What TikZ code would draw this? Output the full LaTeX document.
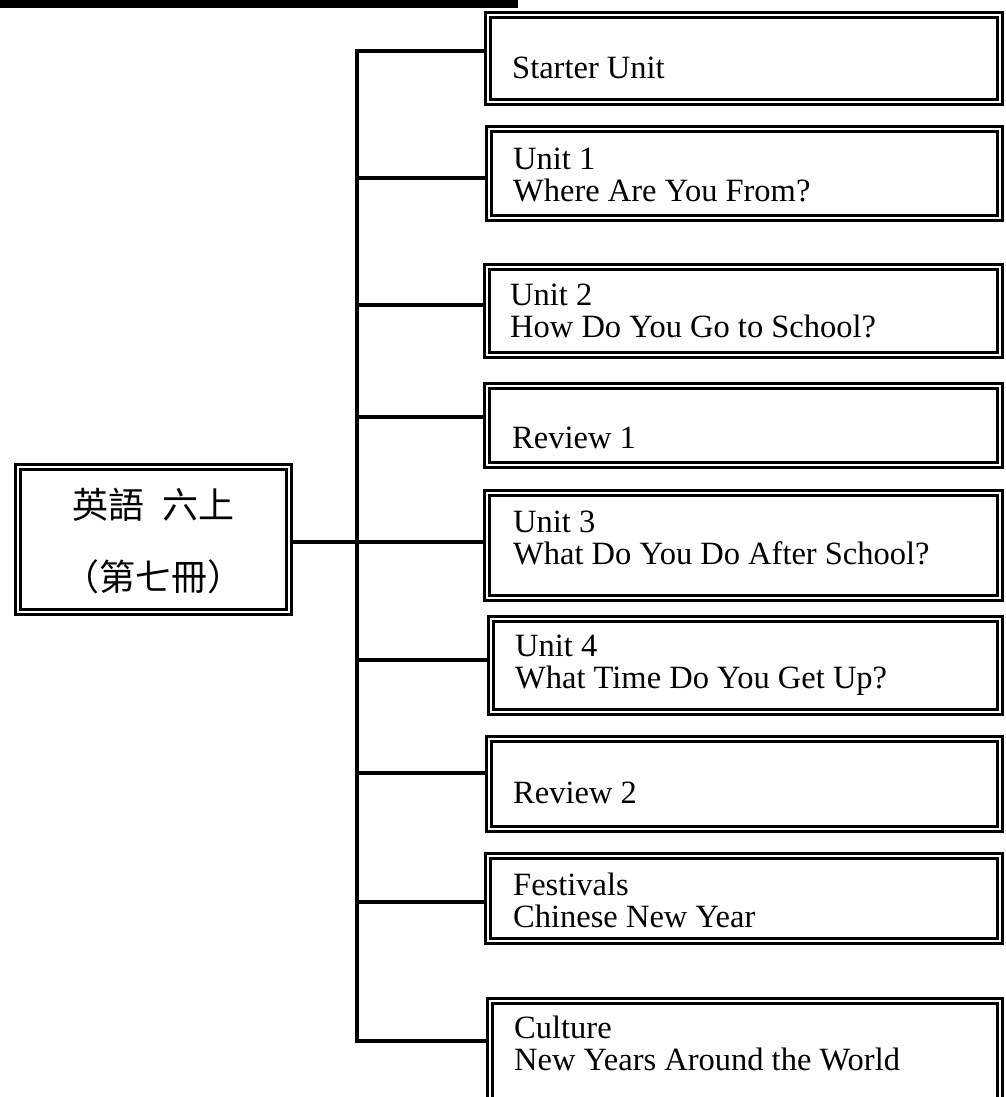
\documentclass[tikz,border=0pt]{standalone}
\usepackage{fontspec}
\setmainfont{Liberation Serif}
\newfontfamily\cjk{Noto Sans CJK TC}
\tikzset{
  frame/.style={draw=black, line width=3pt, double=white, double distance=2pt, inner sep=0pt, fill=white},
  lbl/.style={inner sep=0pt, font=\fontsize{32.5}{31.5}\selectfont, align=left},
  conn/.style={line width=3.5pt, draw=black},
}
\newcommand{\ubox}[5]{\node[frame, minimum width={(#4-#2-8)*1pt}, minimum height={(#5-#3-8)*1pt}] (#1) at ({(#2+#4)/2},{(#3+#5)/2}) {};}
\begin{document}
\begin{tikzpicture}[x=1pt,y=-1pt]
\clip (0,0) rectangle (1005,1097);
\fill[white] (0,0) rectangle (1005,1097);
% top bar
\fill[black] (0,0) rectangle (518,8);
% boxes
\ubox{main}{14}{463}{293}{616}
\ubox{s0}{484}{11}{1004}{106}
\ubox{s1}{485}{125}{1004}{222}
\ubox{s2}{483}{263}{1004}{359}
\ubox{s3}{483}{382}{1004}{469}
\ubox{s4}{483}{489}{1004}{602}
\ubox{s5}{487}{615}{1004}{716}
\ubox{s6}{485}{735}{1004}{833}
\ubox{s7}{484}{852}{1004}{945}
\ubox{s8}{486}{997}{1004}{1120}
% texts (base anchor = baseline of the last line)
\node[inner sep=0pt, font=\cjk\fontsize{36}{72}\selectfont, align=center] (mt) at (153,541) {英語\hspace{0.5em}六上\\（第七冊）};
\node[lbl, anchor=base west] (t0) at (512,79) {Starter Unit};
\node[lbl, anchor=base west] (t1) at (513,201) {Unit 1\\Where Are You From?};
\node[lbl, anchor=base west] (t2) at (510,337) {Unit 2\\How Do You Go to School?};
\node[lbl, anchor=base west] (t3) at (512,448) {Review 1};
\node[lbl, anchor=base west] (t4) at (513,564) {Unit 3\\What Do You Do After School?};
\node[lbl, anchor=base west] (t5) at (515,688) {Unit 4\\What Time Do You Get Up?};
\node[lbl, anchor=base west] (t6) at (513,803) {Review 2};
\node[lbl, anchor=base west] (t7) at (513,927) {Festivals\\Chinese New Year};
\node[lbl, anchor=base west] (t8) at (514,1070) {Culture\\New Years Around the World};
% connectors
\coordinate (b0) at (357,51);
\coordinate (b1) at (357,178);
\coordinate (b2) at (357,305);
\coordinate (b3) at (357,417);
\coordinate (b4) at (357,542);
\coordinate (b5) at (357,660);
\coordinate (b6) at (357,773);
\coordinate (b7) at (357,902);
\coordinate (b8) at (357,1041);
\draw[conn] ([yshift=1.75pt]b0) -- ([yshift=-1.75pt]b8);
\draw[conn] (main.east |- b4) -- (b4 -| s4.west);
\foreach \i in {0,1,2,3,5,6,7,8}{
  \draw[conn] (b\i) -- (b\i -| s\i.west);
}
\end{tikzpicture}
\end{document}
